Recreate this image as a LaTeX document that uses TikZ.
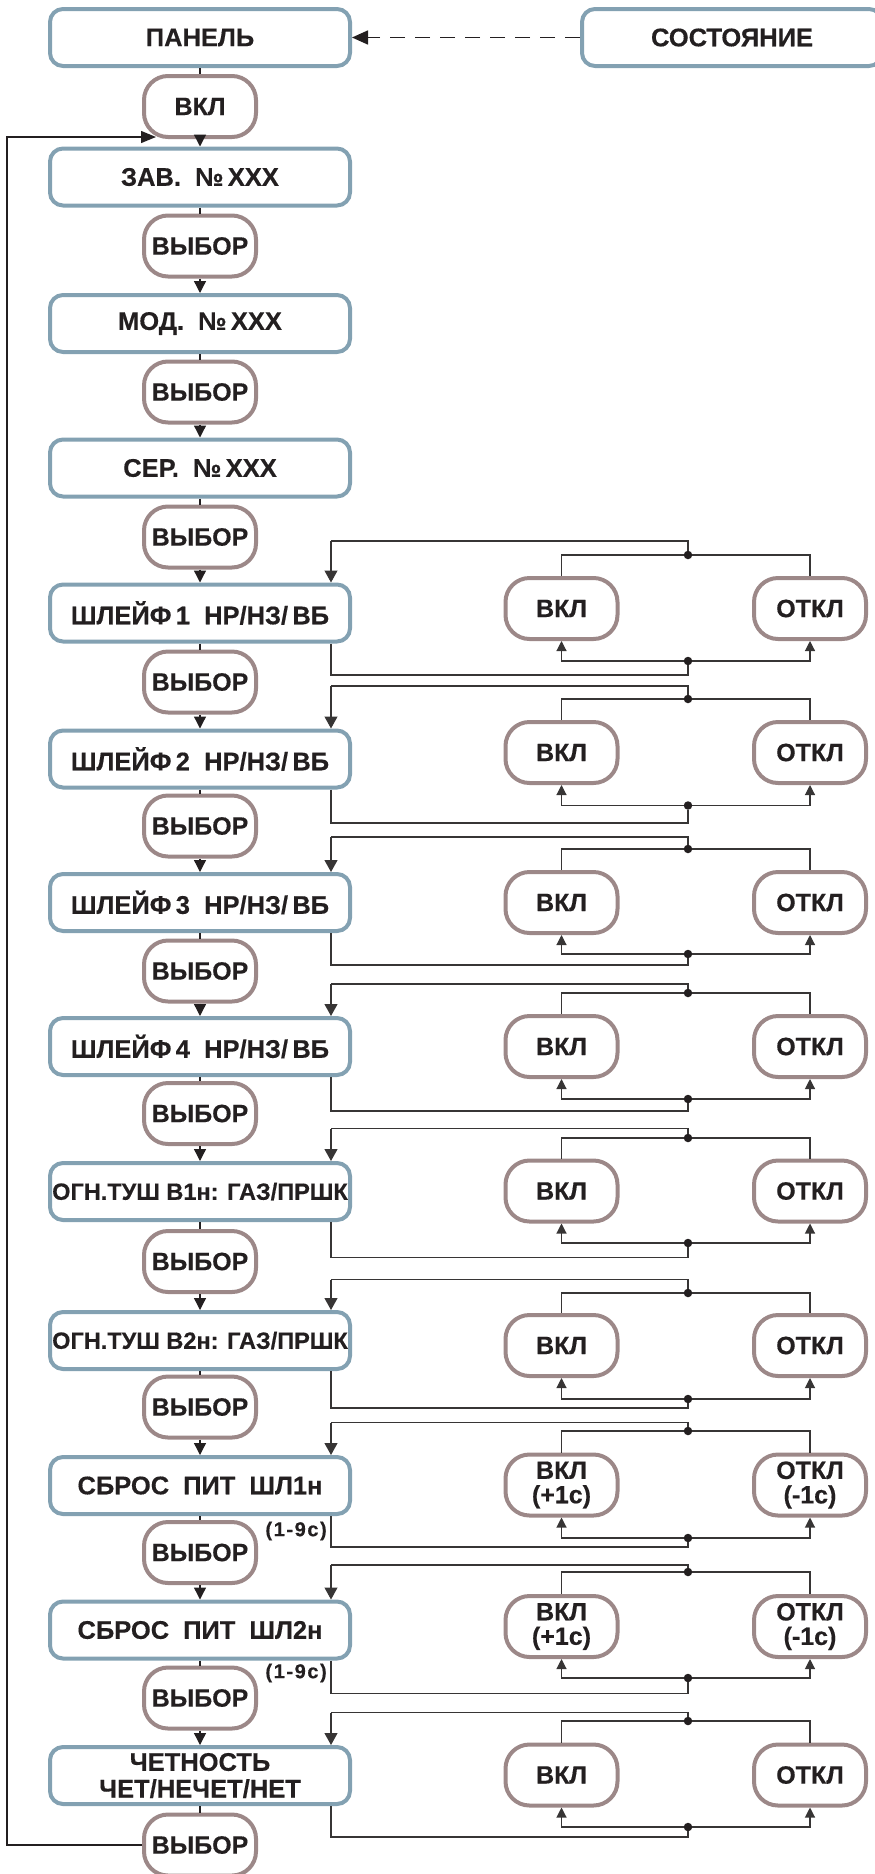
\documentclass[tikz,border=0pt]{standalone}
\usepackage{fontspec}
\setmainfont{Liberation Sans}[BoldFeatures={FakeBold=0.4}]
\usetikzlibrary{arrows.meta}
\definecolor{boxblue}{RGB}{131,161,178}
\definecolor{pillgray}{RGB}{156,136,136}
\definecolor{ink}{RGB}{35,31,32}
\definecolor{wiregray}{RGB}{55,53,53}

\begin{document}
\begin{tikzpicture}[x=1pt,y=-1pt,
  mainbox/.style={draw=boxblue, line width=4pt, rounded corners=13pt, fill=white,
    minimum width=300pt, minimum height=57pt, inner sep=0pt, align=center,
    text=ink, font=\fontsize{25.5}{27}\selectfont\bfseries},
  pillbox/.style={draw=pillgray, line width=4pt, rounded corners=24pt, fill=white,
    minimum width=112pt, minimum height=61pt, inner sep=0pt, align=center,
    text=ink, font=\fontsize{25}{24.5}\selectfont\bfseries},
  wire/.style={draw=ink, line width=1.3pt},
  flow/.style={wire, -{Triangle[length=12pt,width=12pt]}},
  rwire/.style={draw=wiregray, line width=1.15pt},
  rflow/.style={rwire, -{Triangle[length=10pt,width=10pt]}},
  rentry/.style={rwire, -{Triangle[length=12pt,width=13pt]}},
  junction/.style={circle, fill=ink, inner sep=0pt, minimum size=8.5pt},
  timing/.style={text=ink, font=\fontsize{20}{20}\selectfont\bfseries\addfontfeature{LetterSpace=8}, anchor=east, inner sep=0pt}
]
\useasboundingbox (0,0) rectangle (875,1874);
\clip (0,0) rectangle (875,1874);

% header
\node[mainbox] (panel) at (200,37.5) {ПАНЕЛЬ};
\node[mainbox] (state) at (732,37.5) {СОСТОЯНИЕ};
\draw[wire, line width=1.6pt, dash pattern=on 15pt off 10pt, -{Triangle[length=16pt,width=14pt]}] (state.west) -- (panel.east);

% main column: menu items
\node[mainbox] (b1)  at (200,177)    {ЗАВ.\ \ №\,ХХХ};
\node[mainbox] (b2)  at (200,323.5)  {МОД.\ \ №\,ХХХ};
\node[mainbox] (b3)  at (200,468)    {СЕР.\ \ №\,ХХХ};
\node[mainbox] (b4)  at (200,613)    {ШЛЕЙФ\,1\ \ НР/НЗ/\,ВБ};
\node[mainbox] (b5)  at (200,759)    {ШЛЕЙФ\,2\ \ НР/НЗ/\,ВБ};
\node[mainbox] (b6)  at (200,902.5)  {ШЛЕЙФ\,3\ \ НР/НЗ/\,ВБ};
\node[mainbox] (b7)  at (200,1046.5) {ШЛЕЙФ\,4\ \ НР/НЗ/\,ВБ};
\node[mainbox, font=\fontsize{23.5}{26}\selectfont\bfseries] (b8) at (200,1191.5) {ОГН.ТУШ В1н: ГАЗ/ПРШК};
\node[mainbox, font=\fontsize{23.5}{26}\selectfont\bfseries] (b9) at (200,1340.5) {ОГН.ТУШ В2н: ГАЗ/ПРШК};
\node[mainbox] (b10) at (200,1485.5) {СБРОС\hspace{14pt}ПИТ\hspace{14pt}ШЛ1н};
\node[mainbox] (b11) at (200,1630)   {СБРОС\hspace{14pt}ПИТ\hspace{14pt}ШЛ2н};
\node[mainbox] (b12) at (200,1775.5) {\raisebox{-4pt}{\shortstack{ЧЕТНОСТЬ\\[5pt]ЧЕТ/НЕЧЕТ/НЕТ}}};

% main column: buttons
\node[pillbox] (on0)   at (200,106.5)  {ВКЛ};
\node[pillbox] (sel1)  at (200,246)    {ВЫБОР};
\node[pillbox] (sel2)  at (200,392)    {ВЫБОР};
\node[pillbox] (sel3)  at (200,537)    {ВЫБОР};
\node[pillbox] (sel4)  at (200,682)    {ВЫБОР};
\node[pillbox] (sel5)  at (200,826)    {ВЫБОР};
\node[pillbox] (sel6)  at (200,971)    {ВЫБОР};
\node[pillbox] (sel7)  at (200,1113.5) {ВЫБОР};
\node[pillbox] (sel8)  at (200,1261.5) {ВЫБОР};
\node[pillbox] (sel9)  at (200,1407)   {ВЫБОР};
\node[pillbox] (sel10) at (200,1552.5) {ВЫБОР};
\node[pillbox] (sel11) at (200,1698)   {ВЫБОР};
\node[pillbox] (sel12) at (200,1845)   {ВЫБОР};

% main flow
\draw[wire] (panel.south) -- (on0.north);
\draw[flow] (on0.south) -- (b1.north);
\foreach \i [evaluate=\i as \n using int(\i+1)] in {1,...,11}{
  \draw[wire] (b\i.south) -- (sel\i.north);
  \draw[flow] (sel\i.south) -- (b\n.north);
}
\draw[wire] (b12.south) -- (sel12.north);

% return from the last selector to the start
\coordinate (fbl) at (7,137);
\coordinate (fbin) at (156,137);
\draw[wire, -{Triangle[length=15pt,width=12pt]}] (sel12.west) -| (fbl) -- (fbin);

% setting branches: ON / OFF toggles for each item
\foreach \b/\tl/\td/\yp/\bd/\rt/\on/\off in {
  b4/541/555/608.5/661/675/ВКЛ/ОТКЛ,
  b5/686/699/752.5/805.5/823/ВКЛ/ОТКЛ,
  b6/837/849/902.5/954/965/ВКЛ/ОТКЛ,
  b7/984/993/1046.5/1099/1111/ВКЛ/ОТКЛ,
  b8/1128.5/1138/1191/1243/1257.5/ВКЛ/ОТКЛ,
  b9/1279.6/1293/1345.5/1399/1408/ВКЛ/ОТКЛ,
  b10/1422.6/1431/1485/1538/1547/ВКЛ\\(+1с)/ОТКЛ\\(-1с),
  b11/1565/1572/1626.5/1678/1693.5/ВКЛ\\(+1с)/ОТКЛ\\(-1с),
  b12/1712.5/1721/1775/1827/1837/ВКЛ/ОТКЛ}{
  \node[pillbox] (von-\b) at (561.5,\yp) {\on};
  \node[pillbox] (voff-\b) at (810,\yp) {\off};
  \node[junction] (jt-\b) at (688,\td) {};
  \node[junction] (jb-\b) at (688,\bd) {};
  \coordinate (tt-\b) at (688,\tl);
  \coordinate (in-\b) at (331,\tl);
  \coordinate (out-\b) at (331,\rt);
  \draw[rwire] (von-\b.north) |- (jt-\b) -| (voff-\b.north);
  \draw[rwire] (jt-\b) -- (tt-\b) -- (in-\b);
  \draw[rentry] (in-\b) -- (in-\b |- \b.north);
  \draw[rflow] (jb-\b) -| (von-\b.south);
  \draw[rflow] (jb-\b) -| (voff-\b.south);
  \draw[rwire] (out-\b |- \b.south) -- (out-\b) -| (jb-\b);
}

% delay ranges
\node[timing] (d1) at (327,1531) {(1-9с)};
\node[timing] (d2) at (327,1673) {(1-9с)};
\end{tikzpicture}
\end{document}
